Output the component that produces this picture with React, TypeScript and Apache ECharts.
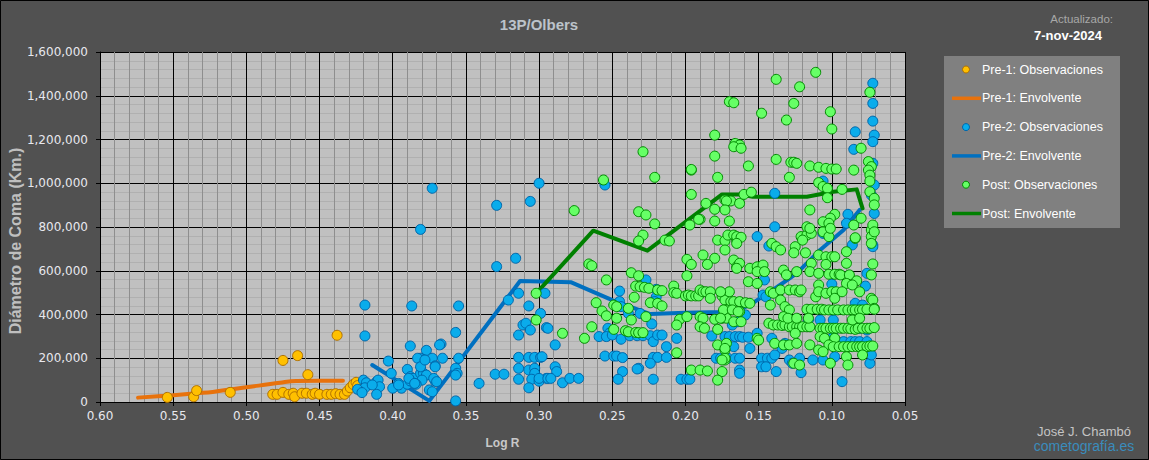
import React, { useEffect, useRef } from "react";
import * as echarts from "echarts";

const FONT = '"Liberation Sans", Arial, sans-serif';
const TICK_FONT = '"DejaVu Sans", Verdana, sans-serif';

const TITLE = "13P/Olbers";
const X_NAME = "Log R";
const Y_NAME = "Diámetro de Coma (Km.)";
const SERIES_NAMES = [
  "Pre-1: Observaciones",
  "Pre-1: Envolvente",
  "Pre-2: Observaciones",
  "Pre-2: Envolvente",
  "Post: Observaciones",
  "Post: Envolvente",
];

const X_MIN = 0.05;
const X_MAX = 0.6;
const X_STEP = 0.05;
const Y_MIN = 0;
const Y_MAX = 1600000;
const Y_STEP = 200000;

// [log R, diámetro km]
const pre1Obs: number[][] = [
  [0.554, 21000], [0.536, 24000], [0.534, 52000], [0.511, 44000], [0.475, 190000],
  [0.465, 212000], [0.458, 125000], [0.438, 305000], [0.482, 35000], [0.479, 35000],
  [0.475, 44000], [0.471, 35000], [0.468, 40000], [0.467, 24000], [0.462, 40000],
  [0.459, 40000], [0.455, 35000], [0.453, 40000], [0.45, 35000], [0.445, 35000],
  [0.442, 35000], [0.439, 38000], [0.436, 35000], [0.433, 35000], [0.431, 50000],
  [0.429, 65000], [0.427, 80000], [0.425, 90000], [0.424, 75000],
];

const pre1Env: number[][] = [
  [0.574, 20000], [0.554, 29000], [0.534, 40000], [0.523, 46000], [0.5, 67000],
  [0.477, 88000], [0.466, 96000], [0.45, 97000], [0.434, 97000],
];

const pre2Obs: number[][] = [
  [0.373, 977000], [0.381, 789000], [0.329, 899000], [0.3, 1000000], [0.306, 917000],
  [0.316, 657000], [0.329, 619000], [0.419, 443000], [0.387, 439000], [0.355, 439000],
  [0.314, 497000], [0.296, 497000], [0.321, 466000], [0.307, 439000], [0.299, 405000],
  [0.295, 340000], [0.311, 352000], [0.309, 360000], [0.306, 329000], [0.314, 306000],
  [0.419, 302000], [0.357, 318000], [0.367, 265000], [0.388, 256000], [0.377, 236000],
  [0.381, 200000], [0.379, 192000], [0.373, 200000], [0.366, 200000], [0.355, 200000],
  [0.371, 165000], [0.403, 187000], [0.401, 131000], [0.39, 149000], [0.388, 116000],
  [0.386, 108000], [0.381, 131000], [0.379, 131000], [0.377, 123000], [0.38, 100000],
  [0.357, 154000], [0.356, 131000], [0.357, 123000], [0.371, 96000], [0.396, 85000],
  [0.394, 63000], [0.39, 81000], [0.388, 96000], [0.384, 81000], [0.4, 63000],
  [0.375, 55000], [0.373, 47000], [0.357, 5000], [0.341, 85000], [0.33, 127000],
  [0.324, 127000], [0.314, 154000], [0.314, 104000], [0.307, 146000], [0.303, 154000],
  [0.303, 131000], [0.305, 104000], [0.3, 95000], [0.307, 65000], [0.314, 204000],
  [0.307, 204000], [0.303, 204000], [0.299, 204000], [0.295, 108000],
  [0.42, 100000], [0.418, 88000], [0.421, 55000], [0.419, 65000], [0.411, 93000],
  [0.41, 100000], [0.409, 70000], [0.411, 35000], [0.414, 78000], [0.424, 58000],
  [0.421, 43000], [0.396, 78000], [0.389, 108000], [0.385, 85000], [0.383, 200000],
  [0.381, 161000], [0.378, 192000], [0.372, 108000], [0.371, 161000], [0.37, 93000],
  [0.368, 261000],
  [0.255, 992000], [0.227, 558000], [0.245, 507000], [0.22, 515000], [0.245, 459000],
  [0.244, 436000], [0.22, 479000], [0.221, 459000], [0.231, 405000], [0.239, 405000],
  [0.294, 337000], [0.289, 261000], [0.298, 207000], [0.223, 357000], [0.253, 337000],
  [0.252, 314000], [0.259, 299000], [0.254, 299000], [0.25, 306000], [0.244, 287000],
  [0.238, 303000], [0.233, 303000], [0.229, 303000], [0.224, 303000], [0.222, 276000],
  [0.219, 306000], [0.216, 306000], [0.213, 253000], [0.206, 291000], [0.255, 210000],
  [0.249, 210000], [0.247, 210000], [0.243, 203000], [0.222, 204000], [0.219, 204000],
  [0.213, 204000], [0.224, 177000], [0.289, 161000], [0.288, 139000], [0.3, 108000],
  [0.294, 108000], [0.292, 108000], [0.284, 88000], [0.279, 108000], [0.273, 108000],
  [0.243, 139000], [0.246, 104000], [0.232, 154000], [0.233, 151000], [0.222, 104000],
  [0.203, 104000], [0.199, 104000], [0.197, 104000], [0.182, 302000], [0.173, 299000],
  [0.17, 299000], [0.166, 299000], [0.163, 299000], [0.168, 352000], [0.164, 367000],
  [0.179, 200000], [0.176, 200000], [0.171, 200000], [0.166, 200000],
  [0.151, 756000], [0.143, 713000], [0.086, 718000], [0.072, 718000], [0.076, 588000],
  [0.146, 558000], [0.147, 489000], [0.145, 481000], [0.159, 398000], [0.084, 451000],
  [0.079, 443000], [0.1, 539000], [0.077, 530000], [0.116, 375000], [0.108, 375000],
  [0.099, 375000], [0.081, 337000], [0.076, 329000], [0.161, 296000], [0.157, 296000],
  [0.151, 314000], [0.141, 291000], [0.167, 253000], [0.156, 245000], [0.134, 245000],
  [0.132, 268000], [0.099, 299000], [0.092, 276000], [0.087, 276000], [0.084, 276000],
  [0.081, 276000], [0.076, 276000], [0.148, 200000], [0.144, 200000], [0.141, 200000],
  [0.139, 215000], [0.129, 192000], [0.122, 200000], [0.113, 192000], [0.106, 192000],
  [0.098, 207000], [0.163, 200000], [0.163, 146000], [0.163, 131000], [0.138, 139000],
  [0.121, 134000], [0.148, 161000], [0.145, 161000], [0.127, 177000], [0.074, 177000],
  [0.073, 215000], [0.093, 93000], [0.072, 710000],
  [0.072, 1457000], [0.072, 1365000], [0.072, 1284000], [0.071, 1220000], [0.072, 1190000],
  [0.084, 1235000], [0.085, 1155000], [0.072, 1091000], [0.071, 992000], [0.073, 946000],
  [0.071, 862000], [0.106, 1010000], [0.139, 954000], [0.139, 801000], [0.089, 858000],
  [0.09, 817000], [0.106, 771000],
];

const pre2Env: number[][] = [
  [0.414, 169000], [0.375, 5000], [0.313, 553000], [0.278, 547000], [0.25, 466000],
  [0.224, 402000], [0.2, 408000], [0.176, 412000], [0.165, 420000], [0.156, 443000],
  [0.149, 475000], [0.142, 504000], [0.124, 588000], [0.108, 695000], [0.092, 786000],
  [0.081, 878000],
];

const postObs: number[][] = [
  [0.302, 497000], [0.302, 375000],
  [0.256, 1015000], [0.221, 1027000], [0.196, 1060000], [0.178, 1027000], [0.276, 875000],
  [0.196, 949000], [0.186, 908000], [0.232, 870000], [0.227, 855000], [0.221, 814000],
  [0.19, 835000], [0.18, 881000], [0.18, 827000], [0.173, 923000], [0.169, 919000],
  [0.163, 908000], [0.17, 827000], [0.197, 809000], [0.229, 763000], [0.232, 736000],
  [0.214, 740000], [0.211, 736000], [0.178, 740000], [0.173, 737000], [0.171, 763000],
  [0.167, 763000], [0.165, 740000], [0.173, 695000], [0.199, 652000], [0.196, 629000],
  [0.188, 672000], [0.18, 657000], [0.185, 629000], [0.167, 649000], [0.165, 618000],
  [0.266, 631000], [0.264, 623000], [0.237, 591000], [0.232, 577000], [0.254, 558000],
  [0.199, 577000], [0.234, 530000], [0.231, 527000], [0.228, 524000], [0.225, 520000],
  [0.219, 512000], [0.216, 509000], [0.208, 530000], [0.208, 500000], [0.206, 497000],
  [0.2, 485000], [0.198, 489000], [0.196, 485000], [0.193, 485000], [0.191, 485000],
  [0.19, 512000], [0.188, 504000], [0.186, 504000], [0.183, 504000], [0.183, 474000],
  [0.175, 485000], [0.173, 466000], [0.169, 459000], [0.167, 459000], [0.163, 459000],
  [0.17, 504000], [0.235, 479000], [0.261, 454000], [0.249, 443000], [0.247, 436000],
  [0.239, 428000], [0.224, 454000], [0.219, 451000], [0.216, 439000], [0.257, 416000],
  [0.254, 394000], [0.247, 383000], [0.237, 375000], [0.227, 390000], [0.264, 344000],
  [0.284, 314000], [0.269, 291000], [0.249, 332000], [0.241, 326000], [0.239, 321000],
  [0.234, 318000], [0.232, 317000], [0.229, 317000], [0.204, 378000], [0.206, 352000],
  [0.199, 390000], [0.19, 390000], [0.188, 383000], [0.19, 344000], [0.187, 337000],
  [0.18, 378000], [0.178, 332000], [0.175, 383000], [0.172, 421000], [0.172, 383000],
  [0.167, 367000], [0.163, 413000], [0.206, 225000], [0.196, 146000], [0.19, 146000],
  [0.185, 142000], [0.178, 261000], [0.172, 268000], [0.173, 238000], [0.173, 192000],
  [0.175, 139000], [0.178, 100000],
  [0.165, 756000], [0.162, 753000], [0.165, 725000], [0.141, 725000], [0.138, 710000],
  [0.135, 695000], [0.125, 710000], [0.126, 682000], [0.118, 682000], [0.121, 756000],
  [0.117, 763000], [0.114, 771000], [0.12, 740000], [0.106, 778000], [0.102, 756000],
  [0.09, 687000], [0.084, 748000], [0.073, 786000], [0.073, 756000], [0.073, 725000],
  [0.072, 631000], [0.09, 634000], [0.163, 634000], [0.165, 611000], [0.156, 611000],
  [0.151, 618000], [0.147, 626000], [0.151, 596000], [0.146, 596000], [0.157, 550000],
  [0.151, 542000], [0.133, 603000], [0.131, 581000], [0.124, 596000], [0.114, 634000],
  [0.115, 596000], [0.109, 672000], [0.109, 588000], [0.104, 664000], [0.1, 664000],
  [0.098, 664000], [0.104, 629000], [0.102, 584000], [0.098, 584000], [0.095, 584000],
  [0.094, 581000], [0.088, 581000], [0.09, 542000], [0.083, 554000], [0.073, 581000],
  [0.142, 504000], [0.14, 497000], [0.135, 512000], [0.129, 512000], [0.125, 512000],
  [0.122, 504000], [0.121, 512000], [0.109, 535000], [0.111, 481000], [0.109, 504000],
  [0.104, 497000], [0.1, 504000], [0.097, 504000], [0.098, 474000], [0.093, 504000],
  [0.086, 535000], [0.081, 504000], [0.073, 474000], [0.072, 466000], [0.071, 428000],
  [0.176, 504000], [0.159, 454000], [0.156, 451000], [0.142, 443000], [0.135, 466000],
  [0.132, 436000], [0.129, 421000],
  [0.117, 424000], [0.114, 424000], [0.11, 424000], [0.107, 424000], [0.105, 421000],
  [0.102, 421000], [0.099, 421000], [0.096, 421000], [0.092, 421000], [0.089, 421000],
  [0.086, 421000], [0.084, 421000], [0.081, 421000], [0.079, 421000], [0.076, 424000],
  [0.071, 424000], [0.174, 421000], [0.168, 421000], [0.164, 413000], [0.176, 383000],
  [0.162, 367000],
  [0.143, 360000], [0.14, 352000], [0.137, 352000], [0.134, 350000], [0.132, 352000],
  [0.129, 344000], [0.127, 344000], [0.124, 344000], [0.122, 344000], [0.12, 344000],
  [0.117, 344000], [0.115, 344000], [0.133, 390000], [0.13, 383000], [0.124, 383000],
  [0.116, 383000],
  [0.108, 337000], [0.106, 337000], [0.104, 337000], [0.101, 337000], [0.099, 337000],
  [0.097, 337000], [0.094, 337000], [0.092, 337000], [0.089, 337000], [0.087, 335000],
  [0.084, 332000], [0.082, 337000], [0.079, 337000], [0.076, 337000], [0.074, 337000],
  [0.071, 340000], [0.086, 375000], [0.081, 383000], [0.108, 299000], [0.105, 291000],
  [0.098, 291000], [0.102, 261000], [0.099, 253000], [0.151, 291000], [0.15, 283000],
  [0.139, 268000], [0.133, 261000], [0.129, 261000], [0.124, 268000], [0.125, 314000],
  [0.115, 261000], [0.109, 238000], [0.106, 230000],
  [0.095, 253000], [0.092, 253000], [0.089, 253000], [0.086, 253000], [0.083, 253000],
  [0.081, 253000], [0.079, 253000], [0.076, 253000], [0.074, 256000], [0.072, 256000],
  [0.09, 207000], [0.089, 169000], [0.079, 215000], [0.126, 177000], [0.122, 169000],
  [0.101, 177000], [0.173, 200000], [0.173, 245000], [0.175, 192000],
  [0.111, 1507000], [0.138, 1475000], [0.122, 1441000], [0.074, 1416000], [0.17, 1373000],
  [0.167, 1368000], [0.126, 1365000], [0.148, 1320000], [0.101, 1327000], [0.131, 1289000],
  [0.1, 1248000], [0.18, 1220000], [0.229, 1144000], [0.08, 1160000], [0.166, 1182000],
  [0.163, 1175000], [0.167, 1167000], [0.162, 1160000], [0.18, 1124000], [0.196, 1063000],
  [0.157, 1079000], [0.138, 1109000], [0.128, 1096000], [0.126, 1096000], [0.124, 1091000],
  [0.115, 1079000], [0.109, 1073000], [0.104, 1068000], [0.1, 1065000], [0.097, 1065000],
  [0.129, 1027000], [0.085, 1060000], [0.075, 1099000], [0.073, 1076000], [0.075, 1060000],
  [0.074, 1037000], [0.074, 1010000], [0.109, 1003000], [0.106, 985000], [0.103, 977000],
  [0.093, 972000], [0.103, 934000], [0.16, 949000], [0.155, 959000], [0.172, 919000],
  [0.173, 878000], [0.191, 835000], [0.115, 878000], [0.098, 858000], [0.101, 840000],
  [0.106, 824000], [0.102, 817000], [0.101, 794000], [0.117, 801000], [0.115, 794000],
  [0.085, 809000], [0.084, 751000], [0.08, 840000], [0.074, 961000], [0.071, 931000],
  [0.071, 901000], [0.072, 809000], [0.071, 778000],
];

const postEnv: number[][] = [
  [0.302, 497000], [0.263, 783000], [0.226, 692000], [0.175, 949000], [0.163, 949000],
  [0.154, 938000], [0.117, 938000], [0.099, 961000], [0.083, 972000], [0.079, 885000],
];

const ORANGE_FILL = "#FFC000";
const ORANGE_EDGE = "#B07000";
const ORANGE_LINE = "#E8720C";
const BLUE_FILL = "#0AACEB";
const BLUE_EDGE = "#0066AA";
const BLUE_LINE = "#0070C0";
const GREEN_FILL = "#66FF66";
const GREEN_EDGE = "#008A00";
const GREEN_LINE = "#008000";

const fmtThousands = (v: number) =>
  String(Math.round(v)).replace(/\B(?=(\d{3})+(?!\d))/g, ",");

export default function App() {
  const ref = useRef<HTMLDivElement>(null);

  useEffect(() => {
    if (!ref.current) return;
    const chart = echarts.init(ref.current, null, { renderer: "svg" });

    const scatter = (name: string, data: number[][], fill: string, edge: string, z: number) => ({
      name,
      type: "scatter",
      data,
      z,
      symbol: "circle",
      symbolSize: 10,
      itemStyle: { color: fill, borderColor: edge, borderWidth: 1, opacity: 1 },
      emphasis: { disabled: true },
    });
    const line = (name: string, data: number[][], color: string, smooth: number | boolean, z: number) => ({
      name,
      type: "line",
      data,
      z,
      showSymbol: false,
      symbol: "none",
      smooth,
      lineStyle: { color, width: 4, cap: "round", join: "round" },
      itemStyle: { color },
      emphasis: { disabled: true },
    });

    const legendColors = [
      { kind: "dot", fill: ORANGE_FILL, edge: ORANGE_EDGE },
      { kind: "line", fill: ORANGE_LINE, edge: ORANGE_LINE },
      { kind: "dot", fill: BLUE_FILL, edge: BLUE_EDGE },
      { kind: "line", fill: BLUE_LINE, edge: BLUE_LINE },
      { kind: "dot", fill: GREEN_FILL, edge: GREEN_EDGE },
      { kind: "line", fill: GREEN_LINE, edge: GREEN_LINE },
    ];
    const legendChildren: any[] = [
      { type: "rect", shape: { x: 944, y: 56, width: 176, height: 172 }, style: { fill: "#808080" } },
    ];
    SERIES_NAMES.forEach((n, i) => {
      const y = 69.5 + i * 28.8;
      const c = legendColors[i];
      if (c.kind === "dot") {
        legendChildren.push({
          type: "circle",
          shape: { cx: 966, cy: y, r: 3.5 },
          style: { fill: c.fill, stroke: c.edge, lineWidth: 1 },
        });
      } else {
        legendChildren.push({
          type: "line",
          shape: { x1: 952, y1: y, x2: 981, y2: y },
          style: { stroke: c.fill, lineWidth: 3.5 },
        });
      }
      legendChildren.push({
        type: "text",
        x: 982,
        y,
        style: {
          text: n,
          fill: "#ffffff",
          font: `12.5px ${FONT}`,
          align: "left",
          verticalAlign: "middle",
        },
      });
    });

    chart.setOption({
      animation: false,
      backgroundColor: "#515151",
      title: {
        text: TITLE,
        left: 534,
        top: 12,
        textAlign: "center",
        textStyle: { color: "#bcc3ca", fontFamily: FONT, fontSize: 15, fontWeight: "bold" },
      },
      grid: {
        left: 100,
        top: 52,
        width: 805,
        height: 350,
        show: true,
        backgroundColor: "#C0C0C0",
        borderWidth: 0,
        containLabel: false,
      },
      xAxis: {
        type: "value",
        min: X_MIN,
        max: X_MAX,
        interval: X_STEP,
        inverse: true,
        name: X_NAME,
        nameLocation: "middle",
        nameGap: 35,
        nameTextStyle: { color: "#c8c8c8", fontFamily: FONT, fontSize: 12, fontWeight: "bold" },
        axisLine: { show: true, onZero: false, lineStyle: { color: "#000", width: 1 } },
        axisTick: { show: true, length: 4, lineStyle: { color: "#000" } },
        axisLabel: {
          color: "#e8e8ee",
          fontFamily: TICK_FONT,
          fontSize: 12,
          margin: 8,
          formatter: (v: number) => v.toFixed(2),
        },
        splitLine: { show: true, lineStyle: { color: "#000", width: 1 } },
        minorTick: { show: false, splitNumber: 5 },
        minorSplitLine: { show: true, lineStyle: { color: "#8e8e8e", width: 1 } },
      },
      yAxis: {
        type: "value",
        min: Y_MIN,
        max: Y_MAX,
        interval: Y_STEP,
        axisLine: { show: true, lineStyle: { color: "#000", width: 1 } },
        axisTick: { show: true, length: 4, lineStyle: { color: "#000" } },
        axisLabel: {
          color: "#e8e8ee",
          fontFamily: TICK_FONT,
          fontSize: 12,
          margin: 12,
          formatter: (v: number) => fmtThousands(v),
        },
        splitLine: { show: true, lineStyle: { color: "#000", width: 1 } },
        minorTick: { show: false, splitNumber: 5 },
        minorSplitLine: { show: true, lineStyle: { color: "#b0b0b0", width: 1 } },
      },
      series: [
        line(SERIES_NAMES[1], pre1Env, ORANGE_LINE, 0.4, 2),
        line(SERIES_NAMES[3], pre2Env, BLUE_LINE, false, 2),
        line(SERIES_NAMES[5], postEnv, GREEN_LINE, false, 2),
        scatter(SERIES_NAMES[0], pre1Obs, ORANGE_FILL, ORANGE_EDGE, 3),
        scatter(SERIES_NAMES[2], pre2Obs, BLUE_FILL, BLUE_EDGE, 3),
        scatter(SERIES_NAMES[4], postObs, GREEN_FILL, GREEN_EDGE, 3),
      ],
      graphic: [
        {
          type: "rect",
          silent: true,
          shape: { x: 0.5, y: 0.5, width: 1148, height: 459 },
          style: { fill: "none", stroke: "#000", lineWidth: 1 },
          z: 100,
        },
        {
          type: "text",
          x: 15,
          y: 241,
          rotation: Math.PI / 2,
          style: {
            text: Y_NAME,
            fill: "#bfbfbf",
            font: `bold 16px ${FONT}`,
            align: "center",
            verticalAlign: "middle",
          },
        },
        {
          type: "text",
          x: 1113,
          y: 19,
          style: {
            text: "Actualizado:",
            fill: "#a8a8a8",
            font: `11.5px ${FONT}`,
            align: "right",
            verticalAlign: "middle",
          },
        },
        {
          type: "text",
          x: 1068,
          y: 35,
          style: {
            text: "7-nov-2024",
            fill: "#ffffff",
            font: `bold 13px ${FONT}`,
            align: "center",
            verticalAlign: "middle",
          },
        },
        {
          type: "text",
          x: 1084,
          y: 431,
          style: {
            text: "José J. Chambó",
            fill: "#c4c4c4",
            font: `13px ${FONT}`,
            align: "center",
            verticalAlign: "middle",
          },
        },
        {
          type: "text",
          x: 1084,
          y: 446,
          style: {
            text: "cometografía.es",
            fill: "#3a8cbc",
            font: `14px ${FONT}`,
            align: "center",
            verticalAlign: "middle",
          },
        },
        { type: "group", children: legendChildren },
      ],
    });

    return () => chart.dispose();
  }, []);

  return (
    <div
      ref={ref}
      style={{ position: "fixed", left: 0, top: 0, width: 1149, height: 460, background: "#515151" }}
    />
  );
}
